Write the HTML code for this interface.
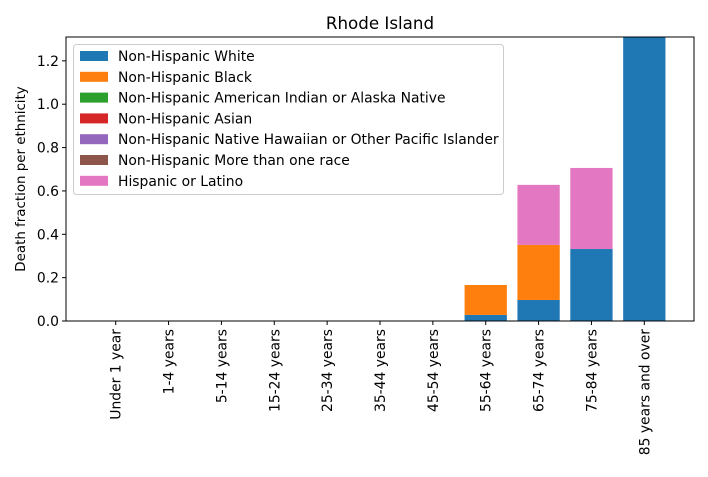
<!DOCTYPE html>
<html><head><meta charset="utf-8"><style>
body{margin:0;background:#fff}
svg{font-family:"DejaVu Sans","Liberation Sans",sans-serif}
</style></head><body>
<svg id="chart" width="708" height="472" viewBox="0 0 708 472">
<text x="380" y="29" font-size="16.7" text-anchor="middle">Rhode Island</text>
<g id="bars"></g>
<g id="axes"></g>
<text transform="translate(25,179) rotate(-90)" font-size="13.4" text-anchor="middle">Death fraction per ethnicity</text>
<g id="legend"></g>
</svg>
<script>
const categories=["Under 1 year","1-4 years","5-14 years","15-24 years","25-34 years","35-44 years","45-54 years","55-64 years","65-74 years","75-84 years","85 years and over"];
const seriesNames=["Non-Hispanic White","Non-Hispanic Black","Non-Hispanic American Indian or Alaska Native","Non-Hispanic Asian","Non-Hispanic Native Hawaiian or Other Pacific Islander","Non-Hispanic More than one race","Hispanic or Latino"];
const white=[0,0,0,0,0,0,0,0.028,0.097,0.332,1.4];
const black=[0,0,0,0,0,0,0,0.138,0.254,0,0];
const aian=[0,0,0,0,0,0,0,0,0,0,0];
const asian=[0,0,0,0,0,0,0,0,0,0,0];
const nhpi=[0,0,0,0,0,0,0,0,0,0,0];
const multi=[0,0,0,0,0,0,0,0,0,0,0];
const hispanic=[0,0,0,0,0,0,0,0,0.277,0.374,0];
const yTicks=[0,0.2,0.4,0.6,0.8,1.0,1.2];
const yTickLabels=["0.0","0.2","0.4","0.6","0.8","1.0","1.2"];
const colors=["#1f77b4","#ff7f0e","#2ca02c","#d62728","#9467bd","#8c564b","#e377c2"];
const series=[white,black,aian,asian,nhpi,multi,hispanic];
const L=66,R=694,T=37,B=321,yMax=1.31;
const NS="http://www.w3.org/2000/svg";
const xMin=-0.94,xMax=categories.length-1+0.94;
function xs(i){return L+(i-xMin)/(xMax-xMin)*(R-L);}
function ys(v){return B-v/yMax*(B-T);}
const bw=0.8*(R-L)/(xMax-xMin);
function mk(tag,attrs,parent){const e=document.createElementNS(NS,tag);for(const k in attrs)e.setAttribute(k,attrs[k]);parent.appendChild(e);return e;}
const bars=document.getElementById('bars');
const clip=mk('clipPath',{id:'pc'},bars);mk('rect',{x:L,y:T,width:R-L,height:B-T},clip);
const bg=mk('g',{'clip-path':'url(#pc)'},bars);
categories.forEach((c,i)=>{let base=0;series.forEach((s,k)=>{const v=s[i];if(v>0){const r=mk('rect',{x:xs(i)-bw/2,y:ys(base+v),width:bw,height:ys(base)-ys(base+v),fill:colors[k]},bg);

}base+=v;});});
const ax=document.getElementById('axes');
const frame=mk('rect',{x:L,y:T,width:R-L,height:B-T,fill:'none',stroke:'#000','stroke-width':1},ax);


yTicks.forEach((t,j)=>{const y=ys(t);mk('line',{x1:L-4,x2:L,y1:y,y2:y,stroke:'#000'},ax);
const tx=mk('text',{x:L-7,y:y+5,'font-size':13.9,'text-anchor':'end'},ax);tx.textContent=yTickLabels[j];

});
categories.forEach((c,i)=>{const x=xs(i);mk('line',{x1:x,x2:x,y1:B,y2:B+4,stroke:'#000'},ax);
const tx=mk('text',{transform:`translate(${x+5},${B+8}) rotate(-90)`,'font-size':13.9,'text-anchor':'end'},ax);tx.textContent=c;

});
const lg=document.getElementById('legend');
const box=mk('rect',{x:73.5,y:44.5,width:430,height:150,rx:3,fill:'#fff','fill-opacity':0.8,stroke:'#ccc'},lg);


seriesNames.forEach((n,k)=>{const y=56+k*20.8;mk('rect',{x:80,y:y-5,width:28,height:10,fill:colors[k]},lg);
const tx=mk('text',{x:118,y:y+5,'font-size':13.9},lg);tx.textContent=n;

});
</script>
</body></html>
